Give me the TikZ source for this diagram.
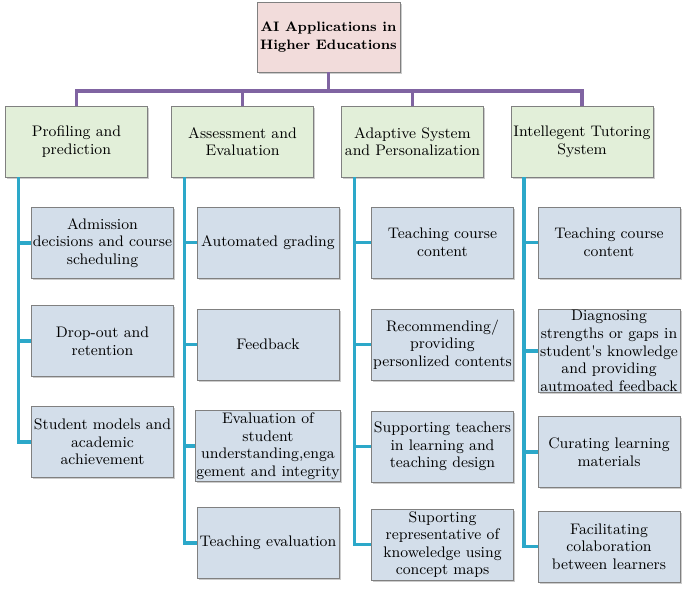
\documentclass[tikz,border=0pt]{standalone}
\usepackage{xcolor}
\usepackage{tikz}
\usetikzlibrary{shadows}
\definecolor{rootfill}{HTML}{F2DCDB}
\definecolor{headfill}{HTML}{E2EFD9}
\definecolor{itemfill}{HTML}{D3DEEA}
\definecolor{busline}{HTML}{8064A2}
\definecolor{treeline}{HTML}{2CA8C9}

\begin{document}
\begin{tikzpicture}[x=0.02cm,y=-0.02cm,
	bx/.style={draw=gray,line width=0.5pt,align=center,inner sep=0.5pt,font=\fontsize{8.7}{10}\selectfont,
		drop shadow={shadow xshift=1pt,shadow yshift=-1pt,fill=black!40}},
	rootbox/.style={bx,fill=rootfill,font=\fontsize{7.8}{9.8}\selectfont\bfseries,minimum width=2.86cm,minimum height=1.4cm},
	head/.style={bx,fill=headfill,minimum width=2.84cm,minimum height=1.42cm},
	item/.style={bx,fill=itemfill,minimum width=2.84cm,minimum height=1.42cm},
	bus/.style={busline,line width=2pt},
	tree/.style={treeline,line width=2pt}]
				\useasboundingbox (0,0) rectangle (685,590);
				\node[rootbox] (root) at (328.5,37) {AI Applications in\\Higher Educations};
				\node[head] (h1) at (76.5,141.5) {Profiling and\\prediction};
				\node[head] (h2) at (242.5,141.5) {Assessment and\\Evaluation};
				\node[head] (h3) at (412.5,141.5) {Adaptive System\\and Personalization};
				\node[head] (h4) at (582,141.5) {Intellegent Tutoring\\System};
				% first column
				\node[item] (i11) at (102.5,243) {Admission\\decisions and course\\scheduling};
				\node[item] (i12) at (102.5,341) {Drop-out and\\retention};
				\node[item] (i13) at (102.5,442) {Student models and\\academic\\achievement};
				% second column
				\node[item] (i21) at (268,242.5) {Automated grading};
				\node[item] (i22) at (268,344.5) {Feedback};
				\node[item] (i23) at (268,446) {Evaluation of\\student\\understanding,enga\\gement and integrity};
				\node[item] (i24) at (268,543) {Teaching evaluation};
				% third column
				\node[item] (i31) at (442.5,242.5) {Teaching course\\content};
				\node[item] (i32) at (442.5,344.5) {Recommending/\\providing\\personlized contents};
				\node[item] (i33) at (442.5,446.5) {Supporting teachers\\in learning and\\teaching design};
				\node[item] (i34) at (442.5,544.5) {Suporting\\representative of\\knoweledge using\\concept maps};
				% fourth column
				\node[item] (i41) at (609,242.5) {Teaching course\\content};
				\node[item] (i42) at (609,351) {Diagnosing\\strengths or gaps in\\student\textquotesingle s knowledge\\and providing\\autmoated feedback};
				\node[item] (i43) at (609,452) {Curating learning\\materials};
				\node[item] (i44) at (609,546.5) {Facilitating\\colaboration\\between learners};
				% purple bus
				\coordinate (busy) at (0,91);
				\draw[bus] (root.south) -- (root.south |- busy);
				\draw[bus] (h1.north) -- (h1.north |- busy) -- (h4.north |- busy) -- (h4.north);
				\draw[bus] (h2.north |- busy) -- (h2.north) (h3.north |- busy) -- (h3.north);
				% cyan trees
				\foreach \c/\n in {1/3,2/4,3/4,4/4}{
					\coordinate (t\c) at ([xshift=0.27cm]h\c.south west);
					\foreach \k in {1,...,\n}
						\draw[tree] (t\c) |- (i\c\k.west);
				}
			\end{tikzpicture}
\end{document}
